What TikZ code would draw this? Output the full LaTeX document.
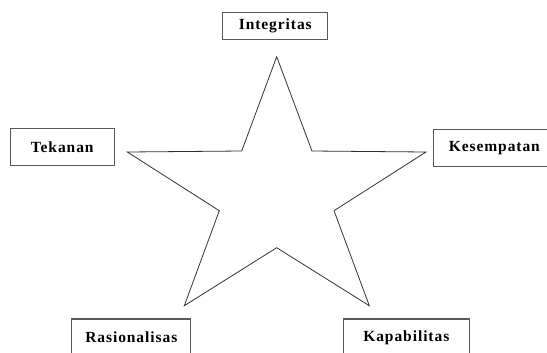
\documentclass[tikz,border=0pt]{standalone}
\usepackage{fontspec}
\setmainfont{Liberation Serif}[LetterSpace=6]

\begin{document}
\begin{tikzpicture}[x=1bp,y=-1bp,every node/.style={rectangle,fill=white,
                      draw=black!65,line width=1.1bp,align=center,
                      font=\fontsize{15.5bp}{18bp}\selectfont\bfseries,
                      inner sep=0pt}]
    \useasboundingbox (0,0) rectangle (547,352);

    \draw[line width=0.8bp,draw=black!80,line join=miter]
          (276.7,56.7) -- (312,151) -- (426,152) -- (334,210.7) --
          (369.3,305.7) -- (276.7,247.7) -- (184.3,305.7) --
          (219.3,210.7) -- (127.3,152) -- (241.7,151) -- cycle;

    \node[minimum width=105bp,minimum height=27bp] (integritas)
          at (275.3,25.7) {Integritas};
    \node[minimum width=104bp,minimum height=37bp] (tekanan)
          at (62.2,146.7) {Tekanan};
    \node[minimum width=122bp,minimum height=37bp] (kesempatan)
          at (494.3,148) {Kesempatan};
    \node[minimum width=119bp,minimum height=37bp] (rasionalisas)
          at (131.3,337.5) {Rasionalisas};
    \node[minimum width=126bp,minimum height=37bp] (kapabilitas)
          at (406.3,337.5) {Kapabilitas};
  \end{tikzpicture}
\end{document}
